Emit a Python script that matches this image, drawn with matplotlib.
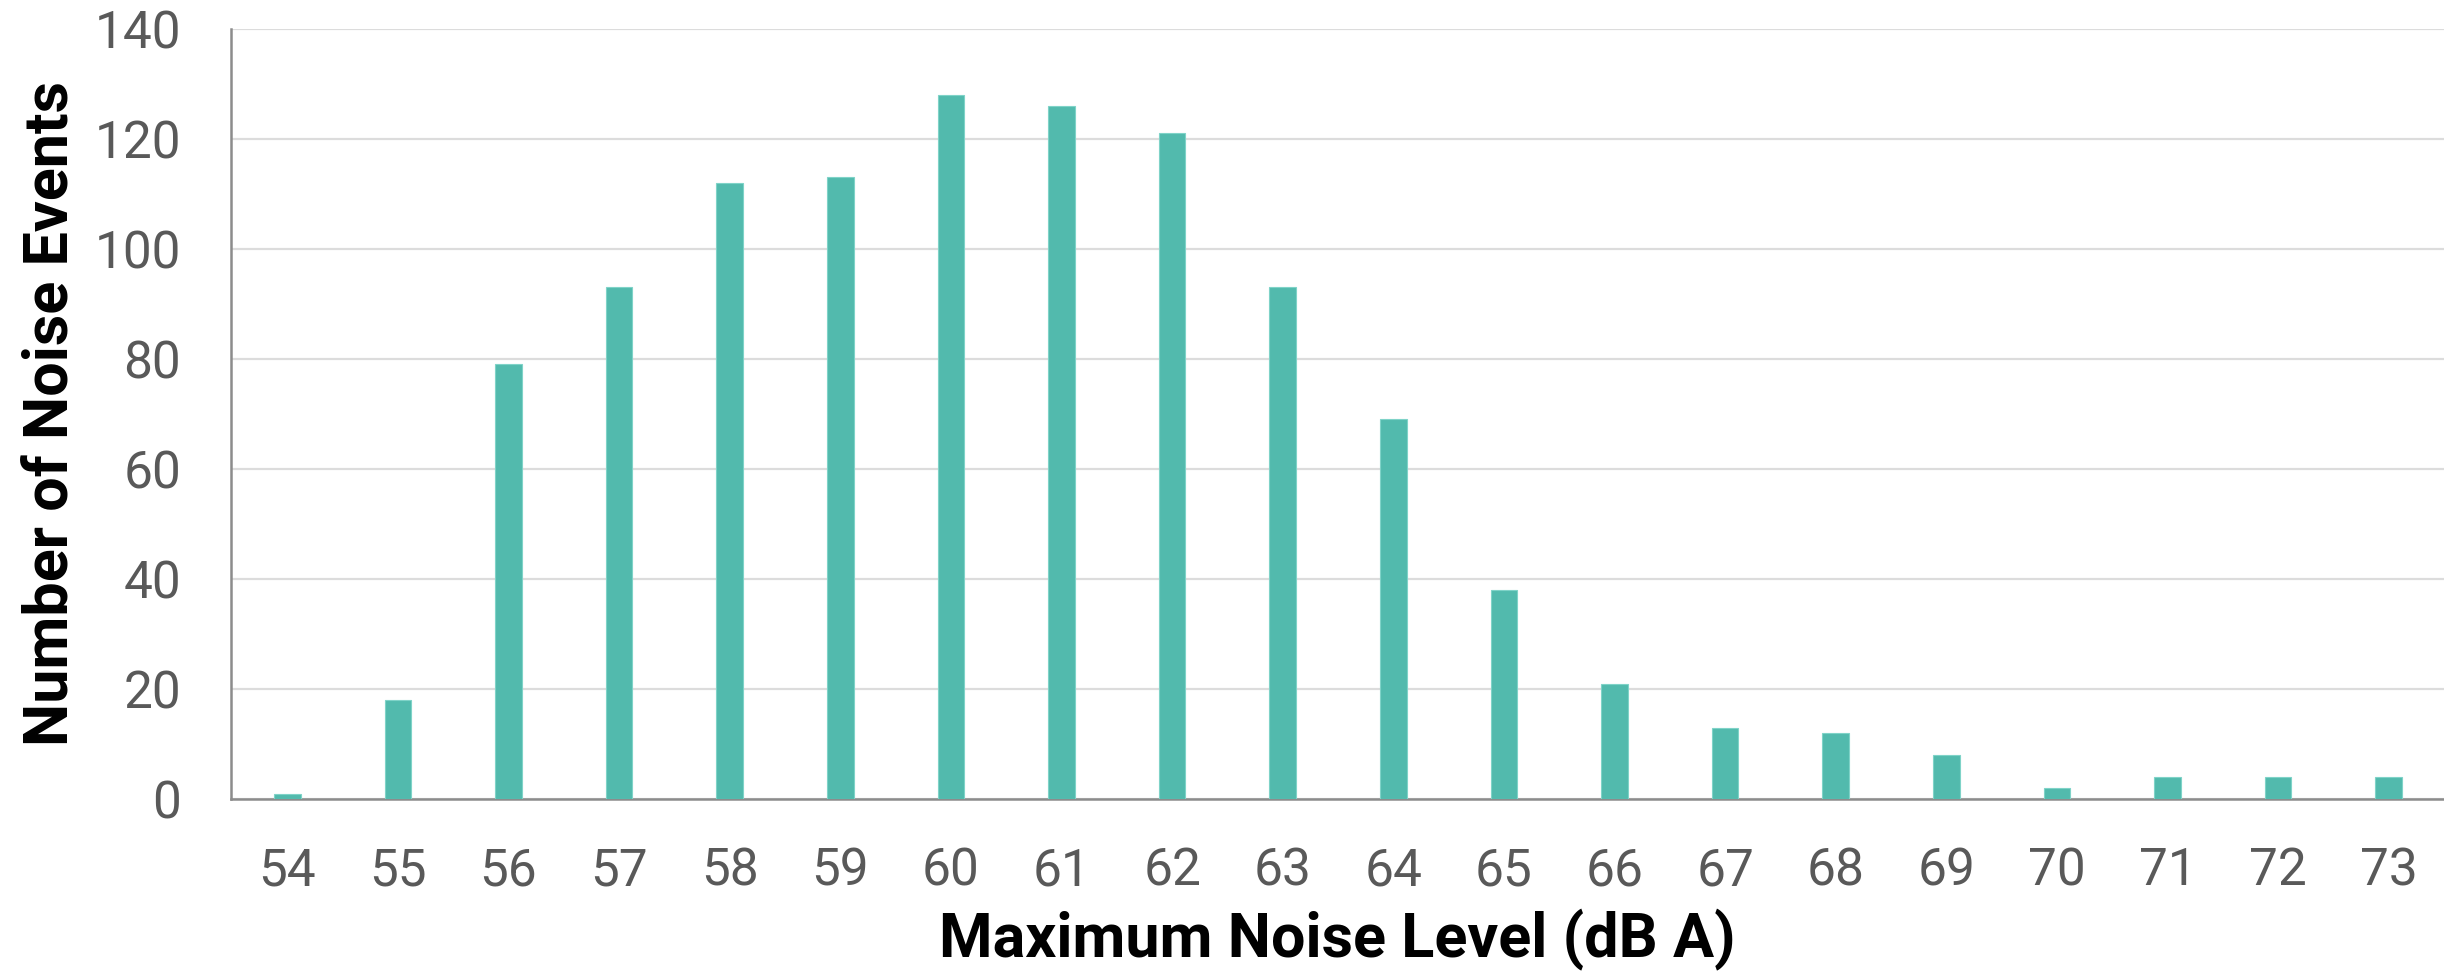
import matplotlib
matplotlib.use("Agg")
import matplotlib.pyplot as plt
import numpy as np

levels = [54, 55, 56, 57, 58, 59, 60, 61, 62, 63, 64, 65, 66, 67, 68, 69, 70, 71, 72, 73]
counts = [1, 18, 79, 93, 112, 113, 128, 126, 121, 93, 69, 38, 21, 13, 12, 8, 2, 4, 4, 4]
y_ticks = [0, 20, 40, 60, 80, 100, 120, 140]

bar_color = '#52BAAD'
tick_font = ['Liberation Sans Narrow', 'Roboto', 'DejaVu Sans']
label_font = ['Roboto', 'DejaVu Sans']

fig = plt.figure(figsize=(24.44, 9.75), dpi=100)
ax = fig.add_axes([0.0945, 0.1805, 0.9055, 0.7898])

ax.bar(levels, counts, width=0.24, color=bar_color, edgecolor='#7fd3c8', linewidth=0.8, zorder=3)

ax.set_xlim(53.49, 73.5)
ax.set_ylim(0, 140)
ax.set_yticks(y_ticks)
ax.set_xticks(levels)
ax.grid(axis='y', color='#dcdcdc', linewidth=1.6, zorder=0)

for side in ['top', 'right']:
    ax.spines[side].set_visible(False)
for side in ['left', 'bottom']:
    ax.spines[side].set_color('#8c8c8c')
    ax.spines[side].set_linewidth(1.8)

ax.tick_params(axis='both', length=0, labelcolor='#595959', labelsize=37)
ax.tick_params(axis='y', pad=36)
ax.tick_params(axis='x', pad=34)
for lab in ax.get_xticklabels() + ax.get_yticklabels():
    lab.set_family(tick_font)

ax.set_xlabel('Maximum Noise Level (dB A)', fontsize=44, fontweight='bold',
              family=label_font, color='black', labelpad=9)
ax.set_ylabel('Number of Noise Events', fontsize=44, fontweight='bold',
              family=label_font, color='black')
ax.yaxis.set_label_coords(-0.068, 0.5)

fig.savefig('out.png', dpi=100)
